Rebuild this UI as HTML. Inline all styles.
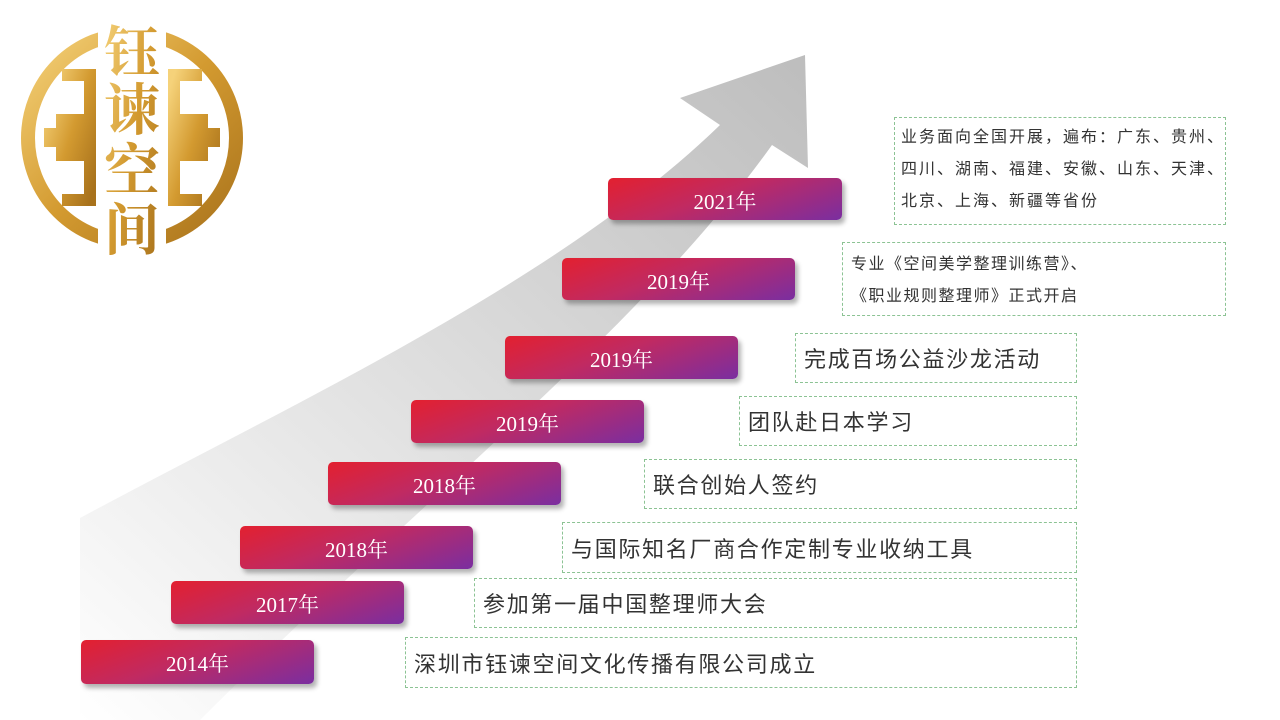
<!DOCTYPE html>
<html><head><meta charset="utf-8"><style>
body{margin:0;width:1280px;height:720px;background:#fff;position:relative;overflow:hidden;font-family:"Liberation Serif","Noto Serif CJK SC",serif}
.y{position:absolute;width:233px;height:43px;border-radius:5px;background:linear-gradient(160deg,#e3202f 0%,#c02a62 45%,#7a2ea0 100%);color:#fff;font-size:21px;line-height:48px;text-align:center;box-shadow:3px 4px 5px rgba(0,0,0,.3)}
.t{position:absolute;border:1px dashed #8cc394;color:#333;font-family:"Liberation Sans","Noto Sans CJK SC",sans-serif;font-size:22px;letter-spacing:1.7px;box-sizing:border-box;padding-left:8px;display:flex;align-items:center;white-space:nowrap}
.s{font-size:16px;line-height:32px;align-items:flex-start;padding-top:4px;letter-spacing:2px}
</style></head><body>
<svg width="1280" height="720" style="position:absolute;left:0;top:0">
<defs>
<linearGradient id="ag" x1="0" y1="1" x2="1" y2="0"><stop offset="0" stop-color="#fff"/><stop offset=".5" stop-color="#dedede"/><stop offset="1" stop-color="#bdbdbd"/></linearGradient>
<linearGradient id="gold" x1="0" y1="0" x2="1" y2="1"><stop offset="0" stop-color="#f5d27a"/><stop offset=".5" stop-color="#d39a30"/><stop offset="1" stop-color="#a8721c"/></linearGradient>
</defs>
<path d="M80 518 C300 400 560 280 720 125 L680 98 L805 55 L808 168 L772 145 C640 330 420 500 200 720 L80 720 Z" fill="url(#ag)"/>
<circle cx="132" cy="138" r="104" fill="none" stroke="url(#gold)" stroke-width="14"/>
<path d="M62 75 h28 v45 h-28 v8 h28 v6 h-40 v-6 M62 200 h28 v-45 h-28 v-8 h28 v-6 h-40 v6" fill="none" stroke="url(#gold)" stroke-width="12"/>
<path d="M202 75 h-28 v45 h28 v8 h-28 v6 h40 v-6 M202 200 h-28 v-45 h28 v-8 h-28 v-6 h40 v6" fill="none" stroke="url(#gold)" stroke-width="12"/>
<rect x="98" y="25" width="68" height="235" fill="#fff"/>
<text x="132" y="0" font-family="Noto Serif CJK SC,serif" font-size="56" font-weight="bold" fill="url(#gold)" text-anchor="middle"><tspan x="132" y="72">钰</tspan><tspan x="132" y="130">谏</tspan><tspan x="132" y="190">空</tspan><tspan x="132" y="250">间</tspan></text>
</svg>
<div class="y" style="left:608px;top:178px;width:234px;height:42px">2021年</div>
<div class="y" style="left:562px;top:258px;height:42px">2019年</div>
<div class="y" style="left:505px;top:336px">2019年</div>
<div class="y" style="left:411px;top:400px">2019年</div>
<div class="y" style="left:328px;top:462px">2018年</div>
<div class="y" style="left:240px;top:526px">2018年</div>
<div class="y" style="left:171px;top:581px">2017年</div>
<div class="y" style="left:81px;top:640px;height:44px">2014年</div>
<div class="t s" style="left:894px;top:117px;width:332px;height:108px;padding-left:6px">业务面向全国开展，遍布：广东、贵州、<br>四川、湖南、福建、安徽、山东、天津、<br>北京、上海、新疆等省份</div>
<div class="t s" style="left:842px;top:242px;width:384px;height:74px;padding-top:6px;letter-spacing:1.5px">专业《空间美学整理训练营》、<br>《职业规则整理师》正式开启</div>
<div class="t" style="left:795px;top:333px;width:282px;height:50px">完成百场公益沙龙活动</div>
<div class="t" style="left:739px;top:396px;width:338px;height:50px">团队赴日本学习</div>
<div class="t" style="left:644px;top:459px;width:433px;height:50px">联合创始人签约</div>
<div class="t" style="left:562px;top:522px;width:515px;height:51px">与国际知名厂商合作定制专业收纳工具</div>
<div class="t" style="left:474px;top:578px;width:603px;height:50px">参加第一届中国整理师大会</div>
<div class="t" style="left:405px;top:637px;width:672px;height:51px">深圳市钰谏空间文化传播有限公司成立</div>
</body></html>
